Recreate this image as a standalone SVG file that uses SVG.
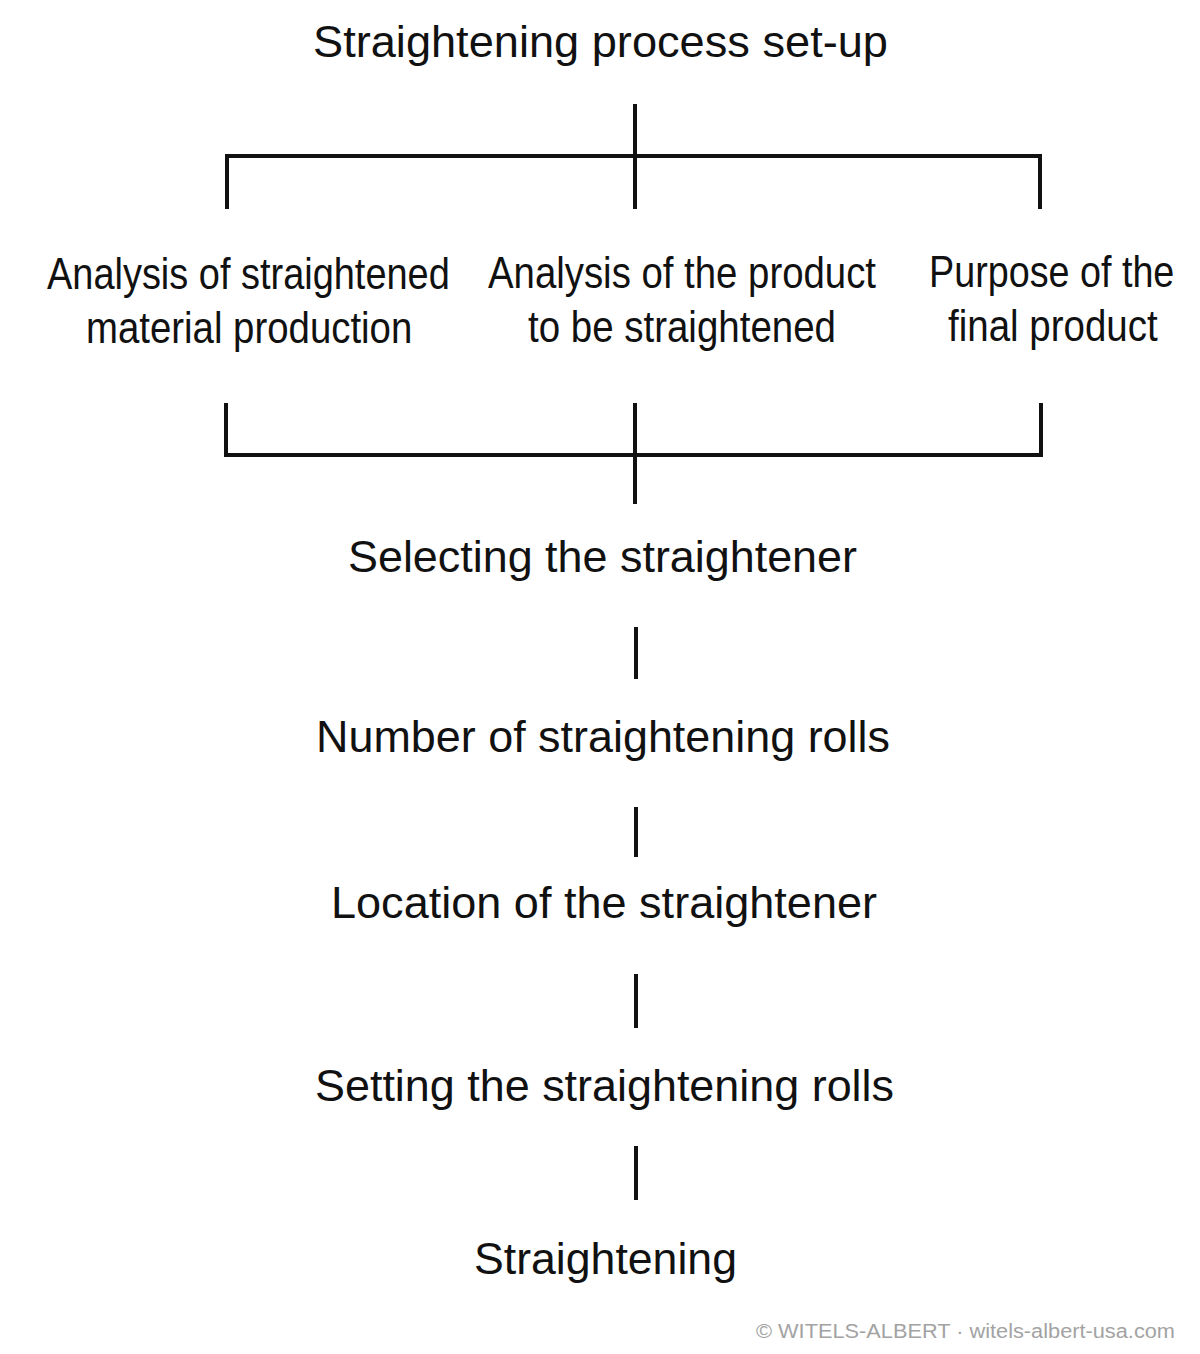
<svg xmlns="http://www.w3.org/2000/svg" width="1200" height="1354" viewBox="0 0 1200 1354">
<style>
.t{font-family:"Liberation Sans",Arial,Helvetica,sans-serif;fill:#111;font-size:44px}
.c{font-family:"Liberation Sans",Arial,Helvetica,sans-serif;fill:#111;font-size:44px}
.f{font-family:"Liberation Sans",Arial,Helvetica,sans-serif;fill:#a3a3a3;font-size:20px}
.ln{stroke:#111;stroke-width:4;fill:none;stroke-linecap:square}
</style>
<rect width="1200" height="1354" fill="#fff"/>
<g id="connectors">
<line class="ln" x1="635" y1="106" x2="635" y2="207"/>
<polyline class="ln" points="227,207 227,156 1040,156 1040,207"/>
<polyline class="ln" points="226,405 226,455 1041,455 1041,405"/>
<line class="ln" x1="635" y1="405" x2="635" y2="502"/>
<line class="ln" x1="636" y1="629" x2="636" y2="677"/>
<line class="ln" x1="636" y1="809" x2="636" y2="855"/>
<line class="ln" x1="636" y1="976" x2="636" y2="1026"/>
<line class="ln" x1="636" y1="1148" x2="636" y2="1198"/>
</g>
<g id="n-title"><text class="t" x="313" y="57" textLength="575" lengthAdjust="spacingAndGlyphs">Straightening process set-up</text></g>
<g id="n-analysis-material">
<text class="c" transform="translate(47,289) scale(0.87,1)" textLength="463" lengthAdjust="spacingAndGlyphs">Analysis of straightened</text>
<text class="c" transform="translate(86,343) scale(0.87,1)" textLength="375" lengthAdjust="spacingAndGlyphs">material production</text>
</g>
<g id="n-analysis-product">
<text class="c" transform="translate(488,288) scale(0.87,1)" textLength="446" lengthAdjust="spacingAndGlyphs">Analysis of the product</text>
<text class="c" transform="translate(528,342) scale(0.87,1)" textLength="354" lengthAdjust="spacingAndGlyphs">to be straightened</text>
</g>
<g id="n-purpose">
<text class="c" transform="translate(929,287) scale(0.87,1)" textLength="282" lengthAdjust="spacingAndGlyphs">Purpose of the</text>
<text class="c" transform="translate(948,341) scale(0.87,1)" textLength="241" lengthAdjust="spacingAndGlyphs">final product</text>
</g>
<g id="n-selecting"><text class="t" x="348" y="572" textLength="509" lengthAdjust="spacingAndGlyphs">Selecting the straightener</text></g>
<g id="n-number"><text class="t" x="316" y="752" textLength="574" lengthAdjust="spacingAndGlyphs">Number of straightening rolls</text></g>
<g id="n-location"><text class="t" x="331" y="918" textLength="546" lengthAdjust="spacingAndGlyphs">Location of the straightener</text></g>
<g id="n-setting"><text class="t" x="315" y="1101" textLength="579" lengthAdjust="spacingAndGlyphs">Setting the straightening rolls</text></g>
<g id="n-straightening"><text class="t" x="474" y="1274" textLength="263" lengthAdjust="spacingAndGlyphs">Straightening</text></g>
<text class="f" x="756" y="1338" textLength="419" lengthAdjust="spacingAndGlyphs">© WITELS-ALBERT  ·  witels-albert-usa.com</text>
</svg>
